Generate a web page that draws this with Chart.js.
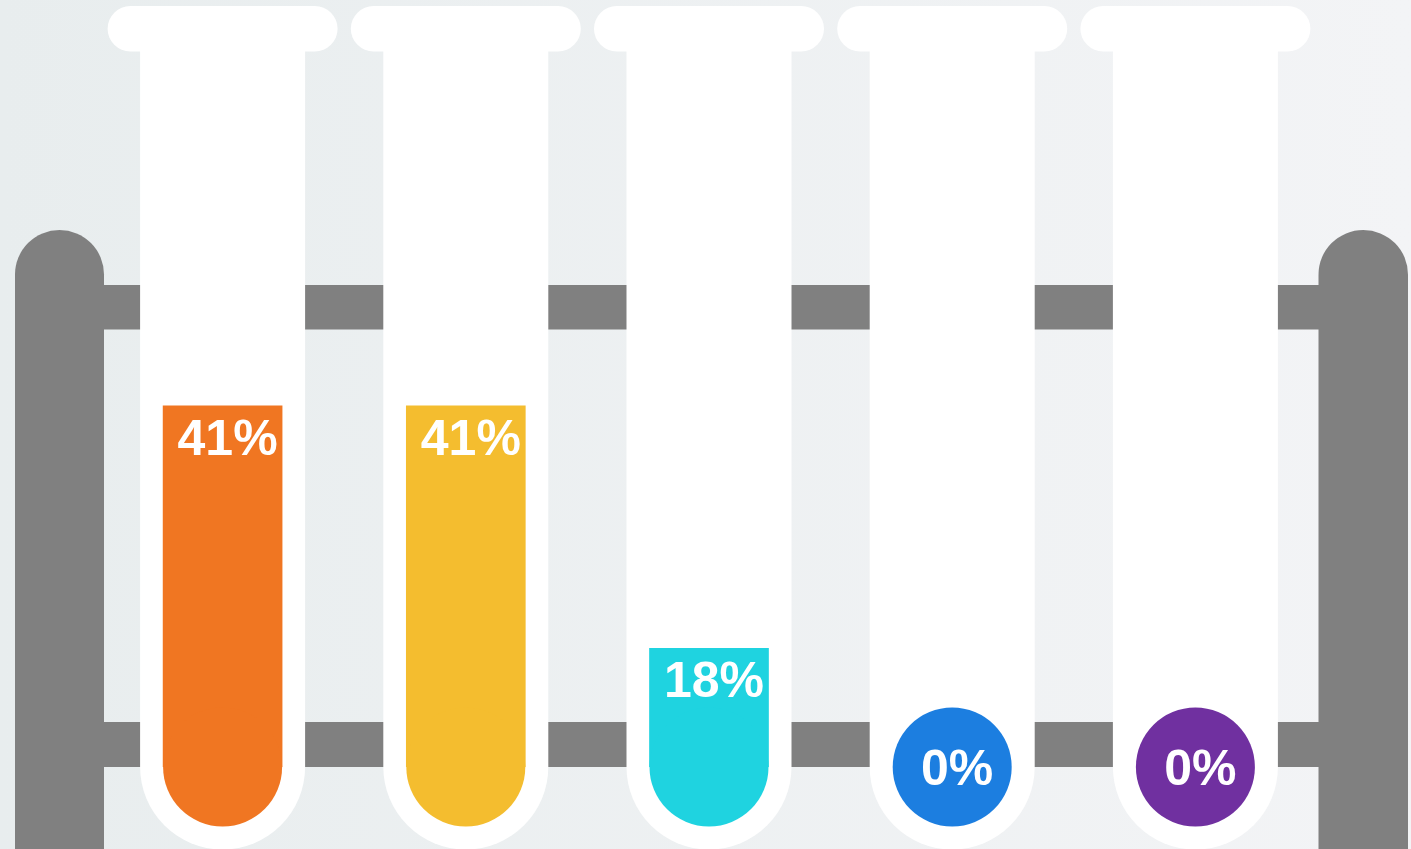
<!DOCTYPE html>
<html>
<head>
<meta charset="utf-8">
<script src="https://cdn.jsdelivr.net/npm/chart.js@4.4.0/dist/chart.umd.min.js"></script>
<style>
  html, body { margin: 0; padding: 0; overflow: hidden; background: #eef1f3; }
  canvas { display: block; }
</style>
</head>
<body>
<canvas id="tubes" width="1411" height="849"></canvas>
<script>
// ===============================
// DATA
// ===============================

const categories = ["Sample A", "Sample B", "Sample C", "Sample D", "Sample E"];
const percentValues = [41, 41, 18, 0, 0];

// ===============================
// STYLE
// ===============================

const liquidColors = ["#f07622", "#f4bd2f", "#1fd3e0", "#1c7ee0", "#7030a0"];
const RACK_COLOR = "#808080";
const GLASS_COLOR = "#ffffff";

const BULB_Y = 767;      // centre of the round tube bottoms
const BULB_R = 59.5;     // liquid bulb radius
const TUBE_HALF = 82.5;  // half width of a tube body
const LIP_HALF = 115;    // half width of the tube lip
const LIP_TOP = 6;
const LIP_BOTTOM = 51.5;

function roundRect(ctx, x, y, w, h, r) {
  ctx.beginPath();
  ctx.moveTo(x + r, y);
  ctx.lineTo(x + w - r, y);
  ctx.arc(x + w - r, y + r, r, -Math.PI / 2, 0);
  ctx.lineTo(x + w, y + h - r);
  ctx.arc(x + w - r, y + h - r, r, 0, Math.PI / 2);
  ctx.lineTo(x + r, y + h);
  ctx.arc(x + r, y + h - r, r, Math.PI / 2, Math.PI);
  ctx.lineTo(x, y + r);
  ctx.arc(x + r, y + r, r, Math.PI, Math.PI * 1.5);
  ctx.closePath();
}

// ===============================
// RACK + TUBES PLUGIN
// ===============================

const rackPlugin = {
  id: "rack",
  beforeDraw(chart) {
    const { ctx, width, height } = chart;
    ctx.save();

    const bg = ctx.createLinearGradient(0, 0, width, 0);
    bg.addColorStop(0, "#e8edee");
    bg.addColorStop(1, "#f3f4f6");
    ctx.fillStyle = bg;
    ctx.fillRect(0, 0, width, height);

    ctx.fillStyle = RACK_COLOR;
    // rails
    ctx.fillRect(100, 285, 1222, 44.5);
    ctx.fillRect(100, 722, 1222, 45);
    // posts with rounded tops
    [[15, 104], [1318.5, 1408]].forEach(([l, r]) => {
      const cx = (l + r) / 2, rad = (r - l) / 2;
      ctx.beginPath();
      ctx.moveTo(l, height);
      ctx.lineTo(l, 230 + rad);
      ctx.arc(cx, 230 + rad, rad, Math.PI, 0);
      ctx.lineTo(r, height);
      ctx.closePath();
      ctx.fill();
    });
    ctx.restore();
  },
  beforeDatasetsDraw(chart) {
    const { ctx } = chart;
    const bars = chart.getDatasetMeta(0).data;

    ctx.save();
    ctx.fillStyle = GLASS_COLOR;
    bars.forEach(bar => {
      const x = bar.x;
      roundRect(ctx, x - LIP_HALF, LIP_TOP, LIP_HALF * 2, LIP_BOTTOM - LIP_TOP, (LIP_BOTTOM - LIP_TOP) / 2);
      ctx.fill();

      ctx.beginPath();
      ctx.moveTo(x - TUBE_HALF, LIP_BOTTOM - 1);
      ctx.lineTo(x + TUBE_HALF, LIP_BOTTOM - 1);
      ctx.lineTo(x + TUBE_HALF, BULB_Y);
      ctx.arc(x, BULB_Y, TUBE_HALF, 0, Math.PI);
      ctx.closePath();
      ctx.fill();
    });
    ctx.restore();

    // liquid columns stop where the bulb begins
    ctx.save();
    ctx.beginPath();
    ctx.rect(0, 0, chart.width, BULB_Y);
    ctx.clip();
  },
  afterDatasetsDraw(chart) {
    const { ctx } = chart;
    ctx.restore();

    const bars = chart.getDatasetMeta(0).data;
    ctx.save();
    bars.forEach((bar, i) => {
      ctx.fillStyle = liquidColors[i];
      ctx.beginPath();
      ctx.arc(bar.x, BULB_Y, BULB_R, 0, Math.PI * 2);
      ctx.fill();
    });

    // percentage labels
    ctx.fillStyle = "#ffffff";
    ctx.font = "bold 50px 'Liberation Sans', Arial, sans-serif";
    ctx.textAlign = "center";
    ctx.textBaseline = "alphabetic";
    bars.forEach((bar, i) => {
      const v = percentValues[i];
      const y = v > 0 ? bar.y + 49 : BULB_Y + 18;
      ctx.fillText(v + "%", bar.x + 5, y);
    });
    ctx.restore();
  }
};

// ===============================
// CHART
// ===============================

new Chart(document.getElementById("tubes"), {
  type: "bar",
  data: {
    labels: categories,
    datasets: [{
      data: percentValues,
      backgroundColor: liquidColors,
      borderWidth: 0,
      barThickness: 119
    }]
  },
  options: {
    responsive: false,
    animation: false,
    devicePixelRatio: 1,
    layout: { padding: { left: 101, right: 94, top: 0, bottom: 11 } },
    plugins: {
      legend: { display: false },
      tooltip: { enabled: false }
    },
    scales: {
      x: { display: false, offset: true },
      y: { display: false, min: 0, max: 79.5 }
    }
  },
  plugins: [rackPlugin]
});
</script>
</body>
</html>
